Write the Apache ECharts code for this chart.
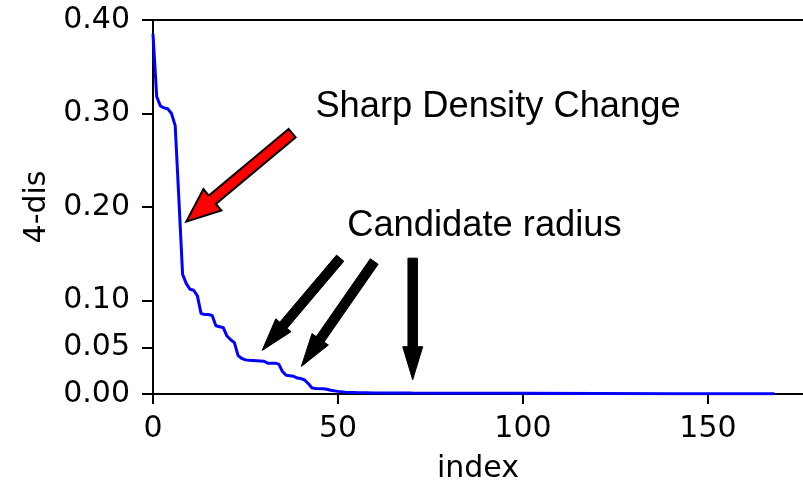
<!DOCTYPE html>
<html><head><meta charset="utf-8">
<script src="https://cdn.jsdelivr.net/npm/echarts@6/dist/echarts.min.js"></script>
<style>html,body{margin:0;padding:0;background:#fff}#c{width:803px;height:484px}</style>
</head><body><div id="c"></div>
<script>
const indices = [0,1,2,3,4,5,6,7,8,9,10,11,12,13,14,15,16,17,18,19,20,21,22,23,24,25,26,28,30,31,32,33,34,35,36,37,38,39,40,41,42,43,44,46,47,48,50,52,55,60,70,80,100,120,140,168];
const dist = [0.385,0.318,0.308,0.306,0.305,0.300,0.287,0.208,0.128,0.118,0.112,0.111,0.105,0.086,0.085,0.085,0.084,0.073,0.072,0.071,0.062,0.058,0.055,0.041,0.038,0.0365,0.036,0.0355,0.035,0.033,0.033,0.033,0.032,0.024,0.020,0.0195,0.019,0.017,0.0165,0.015,0.011,0.0064,0.006,0.0055,0.005,0.004,0.0028,0.002,0.0015,0.0012,0.001,0.0009,0.0007,0.0005,0.0003,0.0002];
const yTicks = [0,0.05,0.1,0.2,0.3,0.4];
const xTicks = [0,50,100,150];
const xMax = 175.7;
const yMax = 0.4;
// annotation anchors in data coordinates: [tailX, tailY, tipX, tipY]
const redArrow = [37.6,0.279,9.0,0.1844];
const blackArrows = [[50.6,0.1453,29.5,0.0466],[59.8,0.1417,40.1,0.0295],[70.2,0.1453,70.2,0.0153]];
const label1 = {text:'Sharp Density Change', x:43.9, y:0.307};
const label2 = {text:'Candidate radius', x:52.5, y:0.1798};

const chart = echarts.init(document.getElementById('c'), null, {renderer:'canvas'});
const tickFont = {fontFamily:'DejaVu Sans', fontSize:30, color:'#000'};
chart.setOption({
  animation:false,
  backgroundColor:'#fff',
  grid:{left:153, top:20, width:650, height:374, containLabel:false, outerBoundsMode:'none'},
  xAxis:[{
    type:'value', min:0, max:xMax, position:'bottom',
    name:'index', nameLocation:'middle', nameGap:60,
    nameTextStyle:{fontFamily:'DejaVu Sans', fontSize:30, color:'#000'},
    axisLine:{show:true, onZero:false, lineStyle:{color:'#000', width:2}},
    axisTick:{show:true, length:10, lineStyle:{color:'#000', width:2}, customValues:xTicks},
    axisLabel:Object.assign({margin:20, customValues:xTicks, formatter:v=>String(v)}, tickFont),
    splitLine:{show:false}
  },{
    type:'value', min:0, max:xMax, position:'top',
    axisLine:{show:true, onZero:false, lineStyle:{color:'#000', width:2}},
    axisTick:{show:false}, axisLabel:{show:false}, splitLine:{show:false}
  }],
  yAxis:{
    type:'value', min:0, max:yMax,
    name:'4-dis', nameLocation:'middle', nameGap:98, nameRotate:90,
    nameTextStyle:{fontFamily:'DejaVu Sans', fontSize:30, color:'#000'},
    axisLine:{show:true, onZero:false, lineStyle:{color:'#000', width:2}},
    axisTick:{show:true, length:11, lineStyle:{color:'#000', width:2}, customValues:yTicks},
    axisLabel:Object.assign({margin:23, customValues:yTicks, formatter:v=>v.toFixed(2)}, tickFont),
    splitLine:{show:false}
  },
  series:[{
    type:'line', xAxisIndex:0, yAxisIndex:0, showSymbol:false,
    data: indices.map((x,i)=>[x, dist[i]]),
    lineStyle:{color:'#0000ff', width:3}, itemStyle:{color:'#0000ff'},
    z:3
  }]
});

function px(x,y){ return chart.convertToPixel({xAxisIndex:0, yAxisIndex:0}, [x,y]); }
function arrowPts(a, shaftW, headW, headL){
  const t = px(a[0],a[1]), h = px(a[2],a[3]);
  const dx = h[0]-t[0], dy = h[1]-t[1], L = Math.hypot(dx,dy);
  const ux = dx/L, uy = dy/L, nx = -uy, ny = ux;
  const bx = h[0]-ux*headL, by = h[1]-uy*headL;
  const s = shaftW/2, w = headW/2;
  return [
    [t[0]+nx*s, t[1]+ny*s],[bx+nx*s, by+ny*s],[bx+nx*w, by+ny*w],[h[0],h[1]],
    [bx-nx*w, by-ny*w],[bx-nx*s, by-ny*s],[t[0]-nx*s, t[1]-ny*s]
  ];
}
const graphics = [];
graphics.push({type:'polygon', shape:{points:arrowPts(redArrow,11,28,34)}, style:{fill:'#ff0000', stroke:'#000', lineWidth:2, lineJoin:'miter'}, z:10});
blackArrows.forEach(a=>graphics.push({type:'polygon', shape:{points:arrowPts(a,9.5,20,33)}, style:{fill:'#000', stroke:'#000', lineWidth:1}, z:10}));
[label1,label2].forEach(l=>{
  const p = px(l.x,l.y);
  graphics.push({type:'text', x:p[0], y:p[1], style:{text:l.text, fontFamily:'Liberation Sans', fontSize:36.3, fill:'#000', verticalAlign:'middle', align:'left'}, z:10});
});
chart.setOption({graphic:graphics});
</script></body></html>
